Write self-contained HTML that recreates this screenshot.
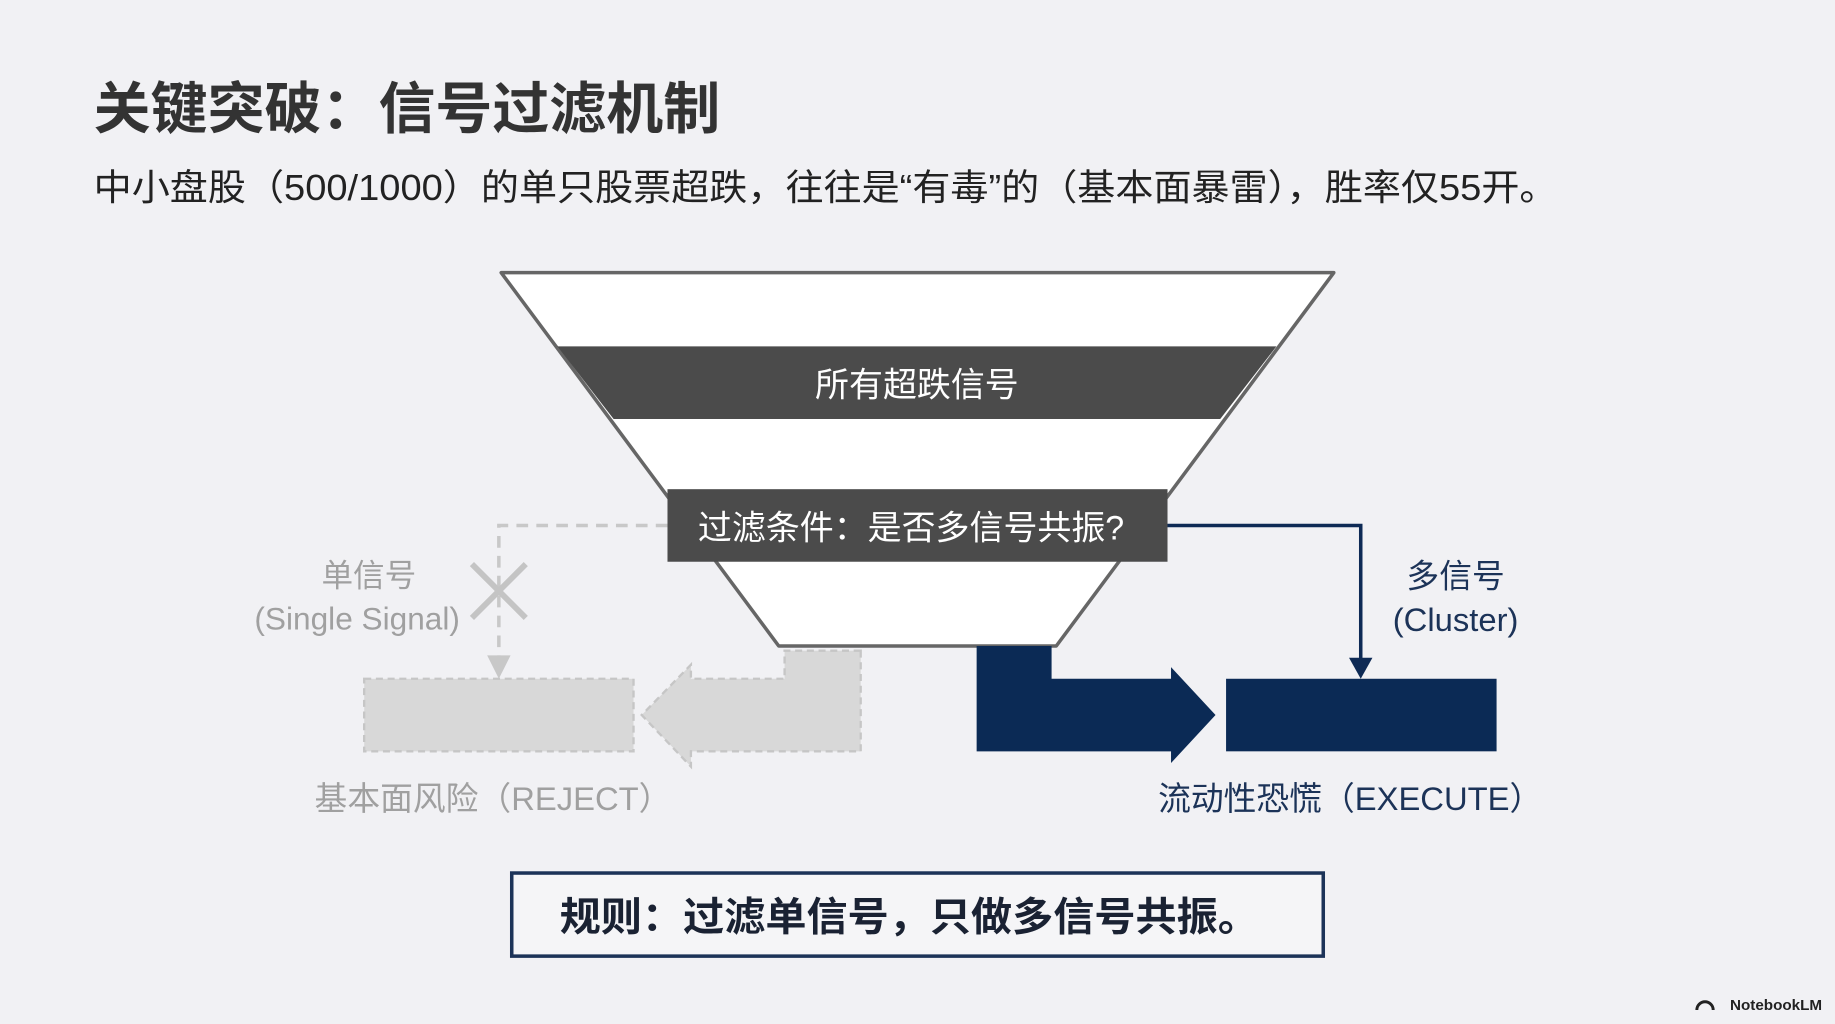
<!DOCTYPE html>
<html><head><meta charset="utf-8"><style>
html,body{margin:0;padding:0;background:#f1f1f4;}
svg{display:block;}
text{font-family:"Liberation Sans","Noto Sans CJK SC",sans-serif;}
</style></head><body>
<svg width="1835" height="1024" viewBox="0 0 1567 875" preserveAspectRatio="none" xmlns="http://www.w3.org/2000/svg">
<rect width="1567" height="875" fill="#f1f1f4"/>
<text x="80" y="110" font-size="48" font-weight="bold" fill="#333" textLength="535" lengthAdjust="spacingAndGlyphs">关键突破：信号过滤机制</text>
<text x="80" y="171" font-size="31" fill="#222" textLength="1250" lengthAdjust="spacingAndGlyphs">中小盘股（500/1000）的单只股票超跌，往往是“有毒”的（基本面暴雷），胜率仅55开。</text>

<!-- funnel -->
<polygon points="428,233 1139,233 902,552 665,552" fill="#fff" stroke="#666" stroke-width="3" stroke-linejoin="round"/>
<polygon points="476,296 1090,296 1042,358 524,358" fill="#4b4b4b"/>
<text x="783" y="339" font-size="29" fill="#fff" text-anchor="middle">所有超跌信号</text>
<rect x="570" y="418" width="427" height="62" fill="#4b4b4b"/>
<text x="778" y="461" font-size="29" fill="#fff" text-anchor="middle">过滤条件：是否多信号共振?</text>

<!-- gray reject path -->
<polyline points="570,449 426,449 426,572" fill="none" stroke="#c8c8c8" stroke-width="3" stroke-dasharray="10,7"/>
<polygon points="416,560 436,560 426,580" fill="#c8c8c8"/>
<line x1="403" y1="482" x2="449" y2="528" stroke="#c4c4c4" stroke-width="5"/>
<line x1="449" y1="482" x2="403" y2="528" stroke="#c4c4c4" stroke-width="5"/>
<text x="315" y="501" font-size="27" fill="#a0a0a0" text-anchor="middle">单信号</text>
<text x="305" y="538" font-size="27" fill="#a0a0a0" text-anchor="middle">(Single Signal)</text>
<rect x="311" y="580" width="230" height="62" fill="#d8d8d8" stroke="#c6c6c6" stroke-width="2" stroke-dasharray="6,4"/>
<polygon points="735,556 670,556 670,580 590,580 590,568 548,611 590,655 590,642 735,642" fill="#d8d8d8" stroke="#c6c6c6" stroke-width="2" stroke-dasharray="6,4"/>
<text x="421" y="692" font-size="28" fill="#a0a0a0" text-anchor="middle">基本面风险（REJECT）</text>

<!-- blue execute path -->
<polyline points="997,449 1162,449 1162,568" fill="none" stroke="#0e2a55" stroke-width="3"/>
<polygon points="1152,562 1172,562 1162,580" fill="#0e2a55"/>
<text x="1243" y="502" font-size="28" fill="#1c3358" text-anchor="middle">多信号</text>
<text x="1243" y="539" font-size="28" fill="#1c3358" text-anchor="middle">(Cluster)</text>
<polygon points="834,552 898,552 898,580 1000,580 1000,570 1038,611 1000,652 1000,642 834,642" fill="#0b2a55"/>
<rect x="1047" y="580" width="231" height="62" fill="#0b2a55"/>
<text x="1153" y="692" font-size="28" fill="#1c3358" text-anchor="middle">流动性恐慌（EXECUTE）</text>

<!-- rule box -->
<rect x="437" y="746" width="693" height="71" fill="#f5f5f7" stroke="#1c3358" stroke-width="3"/>
<text x="478" y="795" font-size="34" font-weight="bold" fill="#1a2233" textLength="597" lengthAdjust="spacingAndGlyphs">规则：过滤单信号，只做多信号共振。</text>

<text x="1556" y="863" font-size="13" font-weight="bold" fill="#222" text-anchor="end">NotebookLM</text>
<path d="M1449,863 a7,7 0 0 1 14,0" fill="none" stroke="#222" stroke-width="2.5"/>
</svg>
</body></html>
